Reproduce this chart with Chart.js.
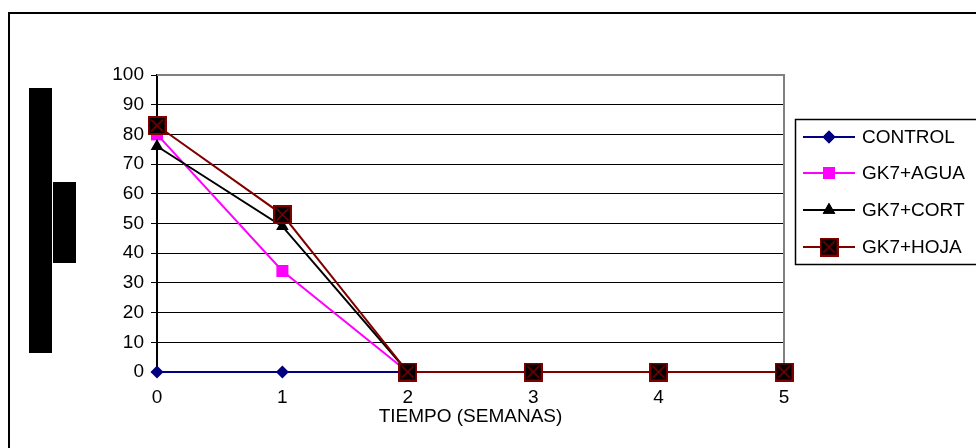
<!DOCTYPE html>
<html><head><meta charset="utf-8">
<script src="https://cdn.jsdelivr.net/npm/chart.js@4"></script>
<style>html,body{margin:0;padding:0;background:#fff}canvas{display:block}</style>
</head><body>
<canvas id="c" width="976" height="448"></canvas>
<script>
// ---- data ----
const weeks = ['0', '1', '2', '3', '4', '5'];
const seriesNames = ['CONTROL', 'GK7+AGUA', 'GK7+CORT', 'GK7+HOJA'];
const controlValues = [0, 0, 0, 0, 0, 0];
const aguaValues = [80, 34, 0, 0, 0, 0];
const cortValues = [76, 49, 0, 0, 0, 0];
const hojaValues = [83, 53, 0, 0, 0, 0];
const yMin = 0, yMax = 100, yStep = 10;
const xAxisTitle = 'TIEMPO (SEMANAS)';

const FONT = 'Liberation Sans, Arial, sans-serif';
const FSIZE = 19;

function makeHojaMarker() {
  const s = 19;
  const c = document.createElement('canvas');
  c.width = s; c.height = s;
  const g = c.getContext('2d');
  g.fillStyle = '#800000';
  g.fillRect(0, 0, s, s);
  g.fillStyle = '#000000';
  g.fillRect(2, 2, s - 4, s - 4);
  g.strokeStyle = '#800000';
  g.lineWidth = 1.6;
  g.beginPath();
  g.moveTo(3.5, 3.5); g.lineTo(s - 3.5, s - 3.5);
  g.moveTo(s - 3.5, 3.5); g.lineTo(3.5, s - 3.5);
  g.stroke();
  return c;
}
const hojaMarker = makeHojaMarker();

const datasets = [
  { label: seriesNames[0], data: controlValues, borderColor: '#000080', backgroundColor: '#000080',
    pointStyle: 'rectRot', pointRadius: 6.5, pointBorderWidth: 0, order: 4 },
  { label: seriesNames[1], data: aguaValues, borderColor: '#FF00FF', backgroundColor: '#FF00FF',
    pointStyle: 'rect', pointRadius: 8.5, pointBorderWidth: 0, order: 3 },
  { label: seriesNames[2], data: cortValues, borderColor: '#000000', backgroundColor: '#000000',
    pointStyle: 'triangle', pointRadius: 7.3, pointBorderWidth: 0, order: 2 },
  { label: seriesNames[3], data: hojaValues, borderColor: '#800000', backgroundColor: '#000000',
    pointStyle: hojaMarker, pointRadius: 9, pointBorderWidth: 0, order: 1 }
].map(d => Object.assign({ borderWidth: 2, tension: 0, fill: false, clip: false, pointHoverRadius: d.pointRadius }, d));

const decorPlugin = {
  id: 'decor',
  beforeDraw(chart) {
    const ctx = chart.ctx;
    ctx.save();
    ctx.fillStyle = '#ffffff';
    ctx.fillRect(0, 0, chart.width, chart.height);
    // outer frame
    ctx.strokeStyle = '#000000';
    ctx.lineWidth = 2;
    ctx.strokeRect(9, 13, 1200, 1200);
    ctx.restore();
  },
  beforeDatasetsDraw(chart) {
    const ctx = chart.ctx, a = chart.chartArea;
    ctx.save();
    ctx.strokeStyle = '#808080';
    ctx.lineWidth = 2;
    ctx.beginPath();
    ctx.moveTo(a.left, a.top); ctx.lineTo(a.right, a.top); ctx.lineTo(a.right, a.bottom);
    ctx.stroke();
    ctx.restore();
  },
  afterDraw(chart) {
    const ctx = chart.ctx;
    ctx.save();
    // redaction blocks (axis title area)
    ctx.fillStyle = '#000000';
    ctx.fillRect(29, 88, 23, 265);
    ctx.fillRect(53, 182, 23, 81);
    // legend
    const bx = 795, by = 119, bh = 145;
    ctx.strokeStyle = '#000000';
    ctx.lineWidth = 1.5;
    ctx.strokeRect(bx + 0.5, by + 0.5, 300, bh);
    const rows = [137, 173, 210, 247];
    ctx.font = FSIZE + 'px ' + FONT;
    ctx.textBaseline = 'middle';
    ctx.textAlign = 'left';
    chart.data.datasets.forEach((ds, i) => {
      const y = rows[i];
      ctx.strokeStyle = ds.borderColor;
      ctx.lineWidth = 2;
      ctx.beginPath();
      ctx.moveTo(803, y); ctx.lineTo(855, y);
      ctx.stroke();
      ctx.fillStyle = ds.backgroundColor;
      if (typeof ds.pointStyle === 'string') {
        ctx.beginPath();
        Chart.helpers.drawPoint(ctx, { pointStyle: ds.pointStyle, radius: ds.pointRadius, borderWidth: 0, rotation: 0 }, 829, y);
        ctx.fill();
      } else {
        Chart.helpers.drawPoint(ctx, { pointStyle: ds.pointStyle, radius: ds.pointRadius, borderWidth: 0, rotation: 0 }, 829, y);
      }
      ctx.fillStyle = '#000000';
      ctx.fillText(ds.label, 862, y + 1);
    });
    ctx.restore();
  }
};

new Chart(document.getElementById('c'), {
  type: 'line',
  data: { labels: weeks, datasets },
  options: {
    responsive: false,
    animation: false,
    events: [],
    layout: { padding: { left: 0, top: 75, right: 192, bottom: 0 } },
    plugins: { legend: { display: false }, tooltip: { enabled: false } },
    scales: {
      x: {
        offset: false,
        grid: { display: false, drawTicks: false },
        border: { display: true, color: '#000000', width: 2 },
        ticks: { color: '#000000', font: { family: FONT, size: FSIZE }, padding: 14, maxRotation: 0 },
        title: { display: true, text: xAxisTitle, color: '#000000', font: { family: FONT, size: FSIZE }, padding: { top: 4, bottom: 20 } },
        afterFit(s) { s.height = 76; }
      },
      y: {
        min: yMin, max: yMax,
        ticks: { stepSize: yStep, color: '#000000', font: { family: FONT, size: FSIZE }, padding: 7 },
        grid: { color: '#000000', lineWidth: 1, drawTicks: true, tickLength: 6, tickColor: '#000000' },
        border: { display: true, color: '#000000', width: 2 },
        afterFit(s) { s.width = 157; }
      }
    }
  },
  plugins: [decorPlugin]
});
</script>
</body></html>
